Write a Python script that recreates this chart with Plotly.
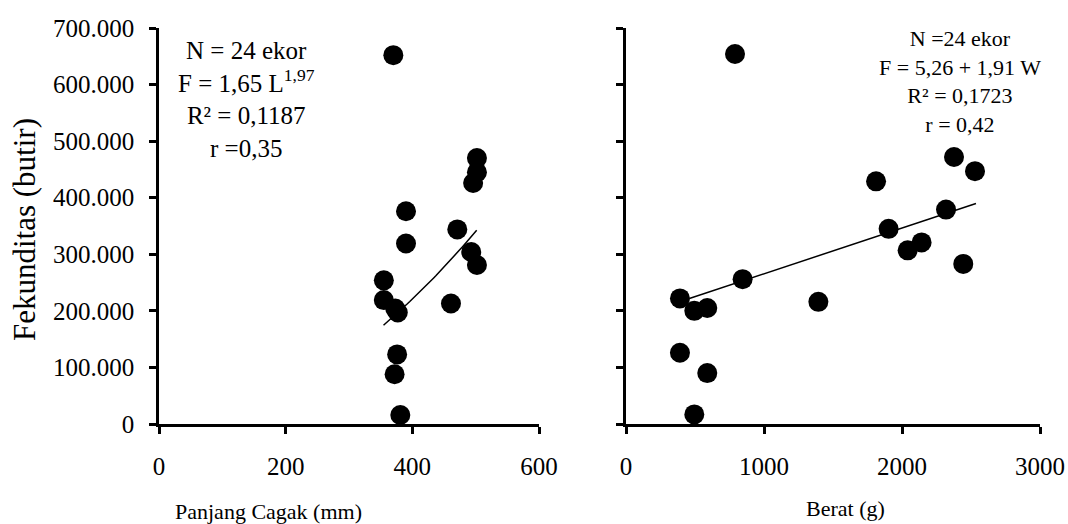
import numpy as np
import plotly.graph_objects as go

W, H = 1068, 524

# Left panel: Panjang Cagak (mm) vs Fekunditas (butir)
panjang = [370, 502, 502, 496, 390, 471, 390, 493, 502, 355, 355, 373, 377, 461, 376, 372, 381]
fek_left = [652000, 470000, 445000, 426000, 376000, 344000, 319000, 304000, 281000,
            254000, 219000, 204000, 197000, 213000, 123000, 88000, 16000]

# Right panel: Berat (g) vs Fekunditas (butir)
berat = [790, 2377, 2529, 1812, 2319, 1903, 2142, 2041, 2444, 845, 391, 495, 589, 1394, 391, 589, 495]
fek_right = [654000, 472000, 447000, 429000, 379000, 345000, 321000, 307000, 283000,
             256000, 222000, 200000, 205000, 216000, 126000, 90000, 17000]

# Trend lines (as drawn in the reference)
trend_left_range = [354.5, 501.6]
trend_left_pow = (174600, 1.94)          # y at start, exponent
trend_right_x = [459, 2536]
trend_right_y = [221700, 389800]

y_tickvals = [0, 100000, 200000, 300000, 400000, 500000, 600000, 700000]
y_ticktext = ["0", "100.000", "200.000", "300.000", "400.000", "500.000", "600.000", "700.000"]
xl_ticks = [0, 200, 400, 600]
xr_ticks = [0, 1000, 2000, 3000]

FONT = "Liberation Serif, Times New Roman, serif"

def px_x(p):
    return p / W

def px_y(p):
    return 1 - p / H

fig = go.Figure()

fig.add_trace(go.Scatter(x=panjang, y=fek_left, mode="markers",
                         marker=dict(color="black", size=20, line=dict(width=0)),
                         xaxis="x", yaxis="y", showlegend=False, cliponaxis=False))
tlx = np.linspace(trend_left_range[0], trend_left_range[1], 40)
tly = trend_left_pow[0] * (tlx / trend_left_range[0]) ** trend_left_pow[1]
fig.add_trace(go.Scatter(x=tlx, y=tly, mode="lines", line=dict(color="black", width=1.5),
                         xaxis="x", yaxis="y", showlegend=False))

fig.add_trace(go.Scatter(x=berat, y=fek_right, mode="markers",
                         marker=dict(color="black", size=20, line=dict(width=0)),
                         xaxis="x2", yaxis="y2", showlegend=False, cliponaxis=False))
fig.add_trace(go.Scatter(x=trend_right_x, y=trend_right_y, mode="lines",
                         line=dict(color="black", width=1.5),
                         xaxis="x2", yaxis="y2", showlegend=False))

ydom = [px_y(424), px_y(28)]
axis_common = dict(showgrid=False, zeroline=False, showline=True, linecolor="black",
                   linewidth=2.5, ticks="outside", ticklen=7, tickwidth=2.5,
                   tickcolor="black", automargin=False,
                   tickfont=dict(family=FONT, size=25, color="black"))

fig.update_layout(
    template="none",
    width=W, height=H, autosize=False,
    margin=dict(l=0, r=0, t=0, b=0, pad=0),
    plot_bgcolor="white", paper_bgcolor="white",
    xaxis=dict(domain=[px_x(159), px_x(539)], range=[0, 600], tickvals=xl_ticks,
               anchor="y", ticklabelstandoff=11, **axis_common),
    yaxis=dict(domain=ydom, range=[0, 700000], tickvals=y_tickvals, ticktext=y_ticktext,
               anchor="x", ticklabelstandoff=10, **axis_common),
    xaxis2=dict(domain=[px_x(626), px_x(1040)], range=[0, 3000], tickvals=xr_ticks,
                anchor="y2", ticklabelstandoff=11, **axis_common),
    yaxis2=dict(domain=ydom, range=[0, 700000], tickvals=y_tickvals, showticklabels=False,
                anchor="x2", **axis_common),
)

annots = [
    dict(text="N = 24 ekor<br>F = 1,65 L<sup>1,97</sup><br>R² = 0,1187<br>r =0,35",
         x=px_x(246), y=px_y(100), font=dict(size=25)),
    dict(text="N =24 ekor<br>F = 5,26 + 1,91 W<br>R² = 0,1723<br>r = 0,42",
         x=px_x(960), y=px_y(82), font=dict(size=22)),
    dict(text="Fekunditas (butir)", x=px_x(24), y=px_y(230), textangle=-90,
         font=dict(size=31)),
    dict(text="Panjang Cagak (mm)", x=px_x(268), y=px_y(511), font=dict(size=22)),
    dict(text="Berat (g)", x=px_x(845), y=px_y(508), font=dict(size=22)),
]
for a in annots:
    f = a.pop("font")
    f.update(family=FONT, color="black")
    fig.add_annotation(xref="paper", yref="paper", showarrow=False,
                       xanchor="center", yanchor="middle", align="center", font=f, **a)

fig.write_html("out.html")
